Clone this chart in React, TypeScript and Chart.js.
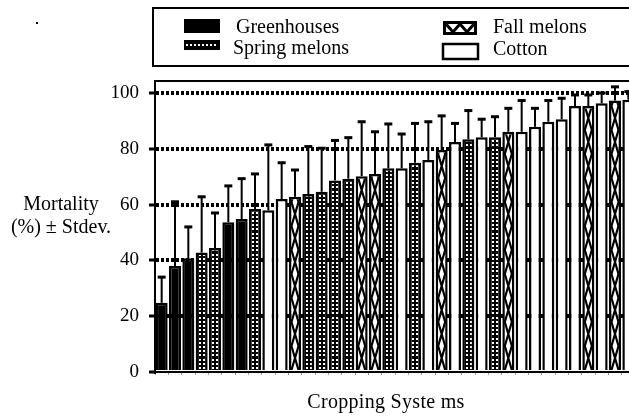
import React, { useEffect, useRef } from 'react';
import { Chart, registerables } from 'chart.js';

Chart.register(...registerables);

// ---- data ----
const categories = ['1','2','3','4','5','6','7','8','9','10','11','12','13','14','15','16','17','18','19','20','21','22','23','24','25','26','27','28','29','30','31','32','33','34','35','36'];
const systemTypes = ['G','G','G','S','S','G','G','S','C','C','F','S','S','S','S','F','F','S','C','S','C','F','C','S','C','S','F','C','C','C','C','C','F','C','F','C'];
const mortality = [24.8,38,40.8,42.8,44.4,53.7,54.8,58.4,58,62,62.8,63.8,64.6,68.6,69.3,70.2,71,73,73,75,76,79.6,82.4,83.4,84.1,84.1,86.1,86.1,87.9,89.7,90.6,95.3,95.3,96.3,97.3,97.6];
const stdev = [9.2,23,11.2,20,12.6,13,14.5,12.6,23.4,13,9.6,17,15.6,14.4,14.7,19.5,15.1,15.9,12.3,14.1,13.7,12.2,6.7,10.3,6.5,7.4,8.4,11.2,6.6,7.6,7.5,4,4,3.7,4.9,2.9];
const seriesKeys = ['G','S','F','C'];
const seriesNames = ['Greenhouses','Spring melons','Fall melons','Cotton'];
const yTicks = [0,20,40,60,80,100];
const yTitle = ['Mortality','(%) \u00b1 Stdev.'];
const xTitle = 'Cropping Syste ms';

const FONT = '"Liberation Serif", "Times New Roman", serif';
const BW = 2.5;

function drawDots(ctx: CanvasRenderingContext2D, l: number, t: number, r: number, b: number) {
  ctx.save();
  ctx.beginPath();
  ctx.rect(l, t, r - l, b - t);
  ctx.clip();
  ctx.fillStyle = '#fff';
  for (let yy = b - 3; yy > t - 2; yy -= 4.2) {
    for (let xx = l + 0.8; xx < r - 1; xx += 4) {
      ctx.fillRect(Math.round(xx), Math.round(yy), 2, 2);
    }
  }
  ctx.restore();
}

function drawLattice(ctx: CanvasRenderingContext2D, l: number, t: number, r: number, b: number) {
  const P = 48;
  ctx.save();
  ctx.beginPath();
  ctx.rect(l - 1, t, r - l + 2, b - t);
  ctx.clip();
  ctx.strokeStyle = '#000';
  ctx.lineWidth = 2.2;
  for (let y0 = b + P; y0 > t - P; y0 -= P) {
    ctx.beginPath();
    ctx.moveTo(l, y0);
    ctx.lineTo(r, y0 - P / 2);
    ctx.lineTo(l, y0 - P);
    ctx.moveTo(r, y0);
    ctx.lineTo(l, y0 - P / 2);
    ctx.lineTo(r, y0 - P);
    ctx.stroke();
  }
  ctx.restore();
}

const decorPlugin = {
  id: 'decor',
  beforeDraw(chart: any) {
    const ctx = chart.ctx;
    ctx.save();
    ctx.fillStyle = '#fff';
    ctx.fillRect(0, 0, chart.width, chart.height);
    ctx.restore();
  },
  afterDatasetsDraw(chart: any) {
    const ctx: CanvasRenderingContext2D = chart.ctx;
    const yScale = chart.scales.y;
    chart.data.datasets.forEach((ds: any, di: number) => {
      const meta = chart.getDatasetMeta(di);
      meta.data.forEach((el: any, i: number) => {
        const v = ds.data[i];
        if (v == null) return;
        const { x, y, base, width } = el.getProps(['x', 'y', 'base', 'width'], true);
        const l = x - width / 2 + BW, r = x + width / 2 - BW, t = y + BW, b = base;
        if (ds.patternKind === 'dots') drawDots(ctx, l, t, r, b);
        if (ds.patternKind === 'lattice') drawLattice(ctx, l, t, r, b);
        const yTop = yScale.getPixelForValue(v + ds.errors[i]);
        ctx.save();
        ctx.strokeStyle = '#000';
        ctx.lineWidth = 2;
        ctx.beginPath();
        ctx.moveTo(x, y);
        ctx.lineTo(x, yTop);
        ctx.stroke();
        ctx.lineWidth = 3;
        ctx.beginPath();
        ctx.moveTo(x - 4, yTop);
        ctx.lineTo(x + 4, yTop);
        ctx.stroke();
        ctx.restore();
      });
    });
  },
  afterDraw(chart: any) {
    const ctx: CanvasRenderingContext2D = chart.ctx;
    const ca = chart.chartArea;
    ctx.save();
    // top frame of plot
    ctx.strokeStyle = '#000';
    ctx.lineWidth = 2;
    ctx.beginPath();
    ctx.moveTo(ca.left - 1, ca.top);
    ctx.lineTo(chart.width, ca.top);
    ctx.stroke();

    // legend box
    ctx.lineWidth = 2;
    ctx.strokeRect(153, 8, 700, 58);
    // swatches
    ctx.fillStyle = '#000';
    ctx.fillRect(184, 19, 36, 14);
    ctx.fillRect(184, 40, 36, 10);
    ctx.fillStyle = '#fff';
    for (let xx = 186; xx < 218; xx += 4) ctx.fillRect(xx, 44, 2, 2);
    // fall melons swatch
    ctx.fillStyle = '#000';
    ctx.fillRect(443, 21, 34, 14);
    ctx.fillStyle = '#fff';
    ctx.fillRect(446, 24, 28, 8);
    ctx.strokeStyle = '#000';
    ctx.lineWidth = 3;
    ctx.beginPath();
    ctx.moveTo(446, 24);
    ctx.lineTo(453, 32);
    ctx.lineTo(460, 24);
    ctx.lineTo(467, 32);
    ctx.lineTo(474, 24);
    ctx.stroke();
    // cotton swatch
    ctx.lineWidth = 2.5;
    ctx.strokeRect(443, 44, 35, 15);

    ctx.fillStyle = '#000';
    ctx.font = '20px ' + FONT;
    ctx.textBaseline = 'alphabetic';
    ctx.textAlign = 'left';
    ctx.fillText(seriesNames[0], 236, 33);
    ctx.fillText(seriesNames[1], 233, 54);
    ctx.fillText(seriesNames[2], 493, 33);
    ctx.fillText(seriesNames[3], 493, 55);

    // axis titles
    ctx.textAlign = 'center';
    ctx.fillText(yTitle[0], 61, 210);
    ctx.fillText(yTitle[1], 61, 233);
    (ctx as any).letterSpacing = '0.3px';
    ctx.fillText(xTitle, 386, 408);
    (ctx as any).letterSpacing = '0px';

    // stray dot
    ctx.fillRect(36, 22, 2, 2);
    ctx.restore();
  },
};

export default function App() {
  const ref = useRef<HTMLCanvasElement | null>(null);
  useEffect(() => {
    if (!ref.current) return;
    const datasets = seriesKeys.map((key, si) => ({
      label: seriesNames[si],
      data: mortality.map((v, i) => (systemTypes[i] === key ? v : null)),
      errors: stdev,
      patternKind: key === 'S' ? 'dots' : key === 'F' ? 'lattice' : 'none',
      backgroundColor: key === 'G' || key === 'S' ? '#000' : '#fff',
      borderColor: '#000',
      borderWidth: BW,
      barPercentage: 0.9,
      categoryPercentage: 1,
      grouped: false,
    }));
    const chart = new Chart(ref.current, {
      type: 'bar',
      data: { labels: categories, datasets: datasets as any },
      options: {
        animation: false,
        responsive: false,
        events: [],
        layout: { padding: { top: 81, left: 0, right: 15, bottom: 0 } },
        plugins: { legend: { display: false }, tooltip: { enabled: false }, title: { display: false } },
        scales: {
          x: {
            ticks: { display: false },
            grid: { display: true, drawOnChartArea: false, tickLength: 3, color: '#999', lineWidth: 1 },
            border: { display: true, color: '#000', width: 2 },
            afterFit: (s: any) => { s.height = 47; },
          },
          y: {
            min: 0,
            max: 104.3,
            ticks: {
              stepSize: 20,
              color: '#000',
              font: { family: FONT, size: 19 },
              padding: 10,
            },
            afterBuildTicks: (s: any) => {
              s.ticks = yTicks.map((v) => ({ value: v }));
            },
            grid: {
              color: (c: any) => (c.tick && c.tick.value === 0 ? 'rgba(0,0,0,0)' : '#000'),
              lineWidth: 4,
              tickLength: 6,
              tickWidth: 3,
              tickColor: '#000',
              tickBorderDash: [],
            },
            border: { display: true, color: '#000', width: 2, dash: [3, 2] },
            afterFit: (s: any) => { s.width = 155; },
          },
        },
      },
      plugins: [decorPlugin],
    });
    return () => chart.destroy();
  }, []);
  return (
    <div style={{ position: 'fixed', left: 0, top: 0, width: 629, height: 419, overflow: 'hidden', background: '#fff' }}>
      <canvas ref={ref} width={650} height={419} style={{ display: 'block' }} />
    </div>
  );
}
